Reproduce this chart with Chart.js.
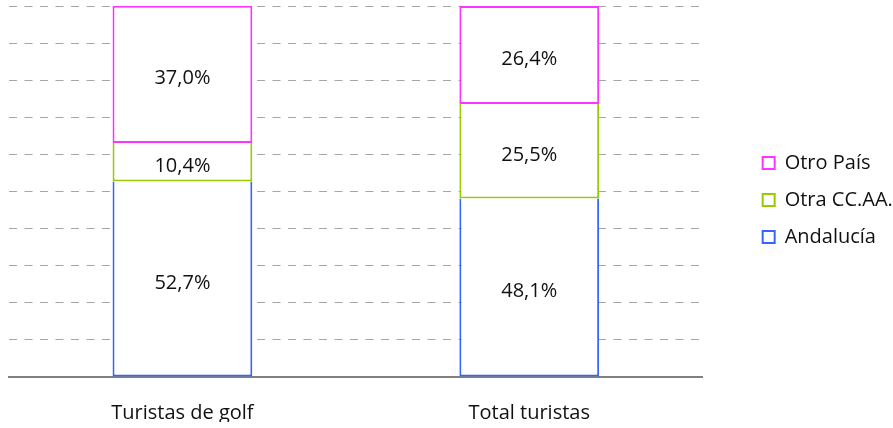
<!DOCTYPE html>
<html lang="es">
<head>
  <meta charset="UTF-8" />
  <title>Turistas de golf vs total turistas</title>
  <script src="https://cdn.jsdelivr.net/npm/chart.js"></script>
  <style>
    html, body { margin: 0; padding: 0; background: #fff; }
    #wrap { width: 893px; height: 428px; }
  </style>
</head>
<body>
  <div id="wrap"><canvas id="origenChart"></canvas></div>

  <script>
    const categories = ['Turistas de golf', 'Total turistas'];
    const andalucia = [52.7, 48.1];
    const otraCCAA = [10.4, 25.5];
    const otroPais = [37.0, 26.4];

    const FONT = '"Open Sans", sans-serif';

    // etiquetas de valor dentro de cada tramo
    const valueLabels = {
      id: 'valueLabels',
      afterDatasetsDraw(chart) {
        const ctx = chart.ctx;
        ctx.save();
        ctx.font = '20px ' + FONT;
        ctx.fillStyle = '#111';
        ctx.textAlign = 'center';
        ctx.textBaseline = 'middle';
        chart.data.datasets.forEach((ds, i) => {
          chart.getDatasetMeta(i).data.forEach((bar, j) => {
            const { x, y, base } = bar.getProps(['x', 'y', 'base'], true);
            const txt = ds.data[j].toFixed(1).replace('.', ',') + '%';
            ctx.fillText(txt, x, (y + base) / 2 + 4);
          });
        });
        ctx.restore();
      }
    };

    new Chart(document.getElementById('origenChart'), {
      type: 'bar',
      data: {
        labels: categories,
        datasets: [
          { label: 'Andalucía', data: andalucia, borderColor: '#3366ff', borderSkipped: 'end' },
          { label: 'Otra CC.AA.', data: otraCCAA, borderColor: '#99cc00', borderSkipped: 'end' },
          { label: 'Otro País', data: otroPais, borderColor: '#ff33ff', borderSkipped: false }
        ].map(d => Object.assign(d, {
          backgroundColor: '#ffffff',
          borderWidth: 2,
          inflateAmount: 0,
          categoryPercentage: 1,
          barPercentage: 0.403
        }))
      },
      plugins: [valueLabels],
      options: {
        responsive: true,
        maintainAspectRatio: false,
        animation: false,
        layout: { padding: { left: 9, top: 6, right: 0, bottom: 6 } },
        plugins: {
          tooltip: { enabled: false },
          legend: {
            position: 'right',
            fullSize: false,
            reverse: true,
            // titulo vacio: solo baja un poco la leyenda
            title: { display: true, text: ' ', padding: 0, font: { size: 14 } },
            labels: {
              boxWidth: 12,
              boxHeight: 12,
              padding: 17,
              color: '#111',
              font: { family: FONT, size: 20 }
            }
          }
        },
        scales: {
          x: {
            stacked: true,
            grid: { display: false, drawTicks: false },
            border: { display: true, color: '#808080', width: 2 },
            ticks: { color: '#111', padding: 24, font: { family: FONT, size: 20 } },
            afterFit(scale) { scale.height = 45; }
          },
          y: {
            stacked: true,
            min: 0,
            max: 100,
            ticks: { display: false, stepSize: 10 },
            grid: { color: '#a6a6a6', lineWidth: 1, drawTicks: false },
            border: { display: false, dash: [8, 7.5] }
          },
          gap: {
            position: 'right',
            grid: { display: false, drawTicks: false },
            border: { display: false },
            ticks: { display: false },
            afterFit(scale) { scale.width = 43; }
          }
        }
      }
    });
  </script>
</body>
</html>
